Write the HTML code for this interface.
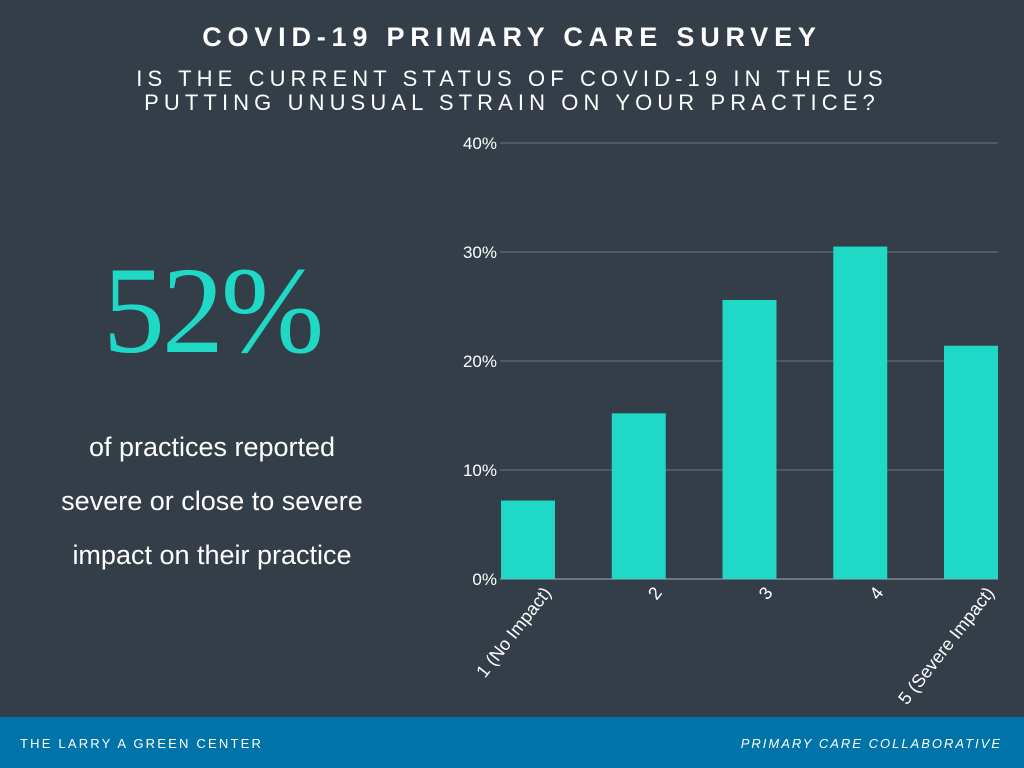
<!DOCTYPE html>
<html><head><meta charset="utf-8"><style>
body{margin:0;width:1024px;height:768px;background:#333e48;overflow:hidden;position:relative;font-family:"Liberation Sans",sans-serif;color:#fff}
.t{position:absolute;left:0;width:1024px;text-align:center}
</style></head><body>
<div class="t" style="top:22px;font-size:27px;font-weight:bold;letter-spacing:5.8px">COVID-19 PRIMARY CARE SURVEY</div>
<div class="t" style="top:67px;font-size:22px;letter-spacing:5.1px;line-height:24px">IS THE CURRENT STATUS OF COVID-19 IN THE US<br>PUTTING UNUSUAL STRAIN ON YOUR PRACTICE?</div>
<div style="position:absolute;left:57px;width:310px;top:236px;text-align:center;font-family:'Liberation Serif',serif;font-size:124px;color:#1fd8c6;line-height:150px;letter-spacing:-3px">52%</div>
<div style="position:absolute;left:20px;width:384px;top:420px;text-align:center;font-size:27px;line-height:54px">of practices reported<br>severe or close to severe<br>impact on their practice</div>
<svg id="chart" width="1024" height="768" style="position:absolute;left:0;top:0"></svg>
<div style="position:absolute;left:0;top:717px;width:1024px;height:51px;background:#0073a8">
<div style="position:absolute;left:20px;top:19px;font-size:13px;letter-spacing:2.2px">THE LARRY A GREEN CENTER</div>
<div style="position:absolute;right:22px;top:19px;font-size:13px;letter-spacing:2px;font-style:italic">PRIMARY CARE COLLABORATIVE</div>
</div>
<script>
const categories=["1 (No Impact)","2","3","4","5 (Severe Impact)"];
const values=[7.2,15.2,25.6,30.5,21.4];
const ticks=[0,10,20,30,40];
const svg=document.getElementById('chart');const NS="http://www.w3.org/2000/svg";
const y0=579,y40=143,x0=500,x1=998;
const barW=54;
const y=v=>y0-(v/40)*(y0-y40);
const step=(x1-(x0+1)-barW)/(categories.length-1);
const x=i=>x0+1+barW/2+step*i;
function mk(t,a){const e=document.createElementNS(NS,t);for(const k in a)e.setAttribute(k,a[k]);svg.appendChild(e);return e;}
ticks.forEach(t=>{
 const l=mk('line',{x1:x0,x2:x1,y1:y(t),y2:y(t),stroke:t===0?'#aab':'#6b757d','stroke-width':1});
 
 
 const tx=mk('text',{x:497,y:y(t)+6,'text-anchor':'end',fill:'#fff','font-size':17,'font-family':'Liberation Sans, sans-serif'});
 tx.textContent=t+'%';
 
 
});
values.forEach((v,i)=>{
 const r=mk('rect',{x:x(i)-barW/2,y:y(v),width:barW,height:y0-y(v),fill:'#1fd8c6'});
 
 
 const tx=mk('text',{x:0,y:0,'text-anchor':'end',fill:'#fff','font-size':18,'font-family':'Liberation Sans, sans-serif',transform:`translate(${x(i)+24},${y0+14}) rotate(-52)`});
 tx.textContent=categories[i];
 
 
});
</script>
</body></html>
